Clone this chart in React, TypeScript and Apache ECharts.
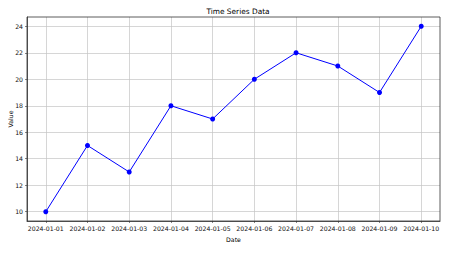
import React, { useEffect, useRef } from "react";
import * as echarts from "echarts";

const dates = [
  "2024-01-01", "2024-01-02", "2024-01-03", "2024-01-04", "2024-01-05",
  "2024-01-06", "2024-01-07", "2024-01-08", "2024-01-09", "2024-01-10",
];
const values = [10, 15, 13, 18, 17, 20, 22, 21, 19, 24];
const yTicks = [10, 12, 14, 16, 18, 20, 22, 24];
const xTicks = dates.map((_, i) => i);

const FONT = "DejaVu Sans";

export default function App() {
  const ref = useRef<HTMLDivElement>(null);
  useEffect(() => {
    if (!ref.current) return;
    const chart = echarts.init(ref.current, undefined, { renderer: "svg" });
    chart.setOption({
      animation: false,
      backgroundColor: "#ffffff",
      title: {
        text: "Time Series Data",
        left: 233,
        textAlign: "center",
        top: 3,
        textStyle: { fontFamily: FONT, fontSize: 7.4, fontWeight: "normal", color: "#000" },
      },
      grid: {
        left: 27, right: 34, top: 17, bottom: 43,
        containLabel: false, outerBoundsMode: "none",
      },
      xAxis: {
        type: "value",
        min: -0.45,
        max: 9.45,
        name: "Date",
        nameLocation: "middle",
        nameGap: 15,
        nameMoveOverlap: false,
        nameTextStyle: { fontFamily: FONT, fontSize: 6.2, color: "#000" },
        axisLine: { show: true, onZero: false, lineStyle: { color: "#333", width: 0.8 } },
        axisTick: { show: true, length: 2, customValues: xTicks, lineStyle: { color: "#333", width: 0.6 } },
        axisLabel: {
          customValues: xTicks,
          formatter: (v: number) => dates[Math.round(v)] ?? "",
          fontFamily: FONT,
          fontSize: 6.2,
          color: "#111",
          margin: 4,
        },
        splitLine: { show: true, lineStyle: { color: "#c4c4c4", width: 0.7 } },
      },
      yAxis: {
        type: "value",
        min: 9.3,
        max: 24.7,
        name: "Value",
        nameLocation: "middle",
        nameGap: 14,
        nameMoveOverlap: false,
        nameRotate: 90,
        nameTextStyle: { fontFamily: FONT, fontSize: 6.2, color: "#000" },
        axisLine: { show: true, onZero: false, lineStyle: { color: "#333", width: 0.8 } },
        axisTick: { show: true, length: 2, customValues: yTicks, lineStyle: { color: "#333", width: 0.6 } },
        axisLabel: {
          customValues: yTicks,
          fontFamily: FONT,
          fontSize: 6.2,
          color: "#111",
          margin: 4,
        },
        splitLine: { show: true, lineStyle: { color: "#c4c4c4", width: 0.7 } },
      },
      series: [
        {
          type: "line",
          data: values.map((v, i) => [i, v]),
          symbol: "circle",
          symbolSize: 5,
          itemStyle: { color: "#0000ff" },
          lineStyle: { color: "#0000ff", width: 1 },
        },
      ],
      graphic: [
        {
          type: "rect",
          shape: { x: 27, y: 17, width: 474 - 27 - 34, height: 264 - 17 - 43 },
          style: { fill: "none", stroke: "#333", lineWidth: 0.8 },
          z: 100,
          silent: true,
        },
      ],
    });
    return () => chart.dispose();
  }, []);
  return <div ref={ref} style={{ width: 474, height: 264, position: "absolute", left: 0, top: 0 }} />;
}
